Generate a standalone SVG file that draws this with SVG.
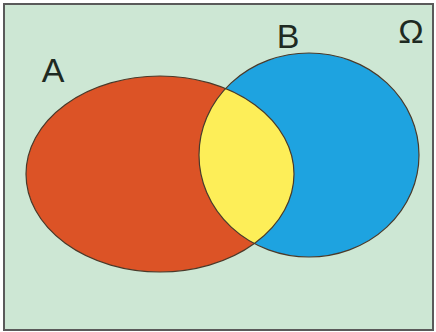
<svg xmlns="http://www.w3.org/2000/svg" width="436" height="332" viewBox="0 0 436 332">
<style>
.lbl{font-family:"Liberation Sans",Arial,sans-serif;font-size:34px;fill:#1e2a22;text-anchor:middle}
.edge{fill:none;stroke:#4a3a2a;stroke-width:1.2}
</style>
<defs>
<clipPath id="clipA"><ellipse cx="160" cy="174" rx="134" ry="98"/></clipPath>
</defs>
<rect x="4" y="4" width="429" height="326" fill="#cde7d4" stroke="#5a5a5a" stroke-width="2"/>
<g id="setA"><ellipse cx="160" cy="174" rx="134" ry="98" fill="#dc5326"/></g>
<g id="setB"><ellipse cx="309" cy="155" rx="110" ry="102" fill="#1ea3e0"/></g>
<g id="intersection"><ellipse cx="309" cy="155" rx="110" ry="102" fill="#fdee58" clip-path="url(#clipA)"/></g>
<g id="outlines">
<ellipse class="edge" cx="160" cy="174" rx="134" ry="98"/>
<ellipse class="edge" cx="309" cy="155" rx="110" ry="102"/>
</g>
<g id="labels">
<text class="lbl" x="53" y="82">A</text>
<text class="lbl" x="288" y="48">B</text>
<text class="lbl" x="411" y="43">Ω</text>
</g>
</svg>
